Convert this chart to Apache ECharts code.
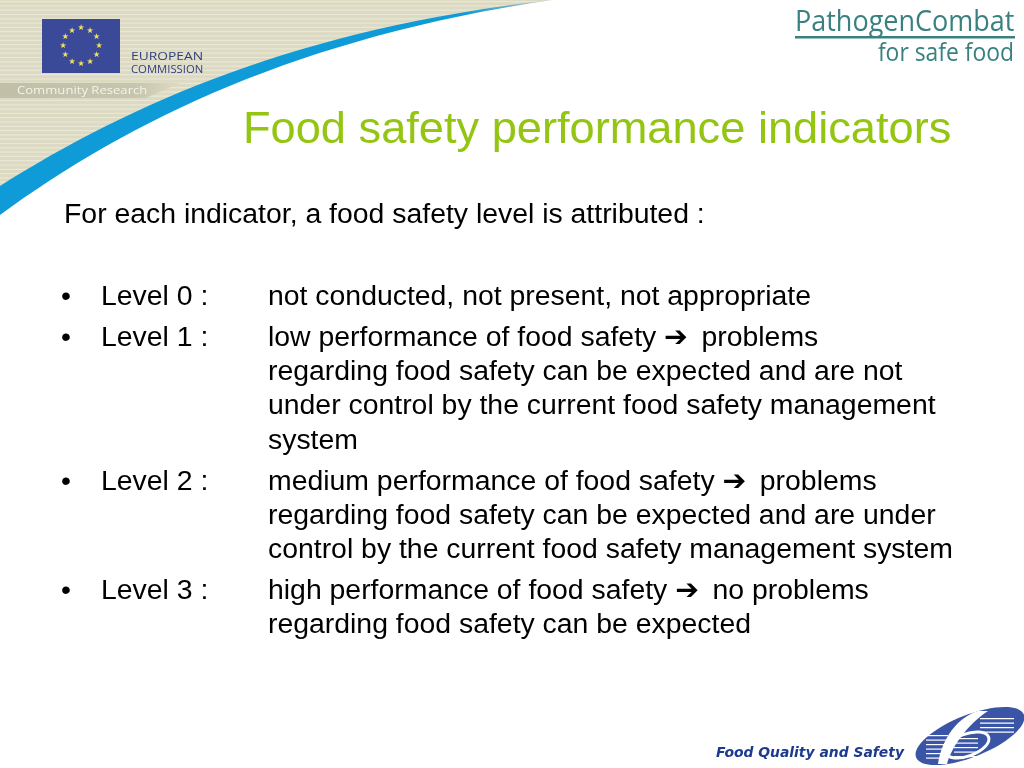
<!DOCTYPE html>
<html>
<head>
<meta charset="utf-8">
<style>html,body{margin:0;padding:0;background:#fff}#main{width:1024px;height:768px}</style>
<script src="https://cdn.jsdelivr.net/npm/echarts@6/dist/echarts.min.js"></script>
</head>
<body>
<div id="main"></div>
<script>
const titleText = 'Food safety performance indicators'
const introText = 'For each indicator, a food safety level is attributed :'
const levelNames = ['Level 0 :', 'Level 1 :', 'Level 2 :', 'Level 3 :']
const levelLines = [
  ['not conducted, not present, not appropriate'],
  ['low performance of food safety \u2794\u2009 problems',
   'regarding food safety can be expected and are not',
   'under control by the current food safety management',
   'system'],
  ['medium performance of food safety \u2794\u2009 problems',
   'regarding food safety can be expected and are under',
   'control by the current food safety management system'],
  ['high performance of food safety \u2794\u2009 no problems',
   'regarding food safety can be expected']
]
const lineCenters = [
  [297],
  [338, 372, 406, 441],
  [482, 516, 550],
  [591, 625]
]

const bodyFont = '"Liberation Sans","DejaVu Sans",sans-serif'
const logoFont = '"Open Sans",sans-serif'
const graphics = []
let shapeCount = 0

// y is the middle of the line, scaleX stretches from x
function txt(x, y, text, size, fill, extra) {
  graphics.push(Object.assign({
    type: 'text', x: x, y: y,
    style: Object.assign({ text: text, fontSize: size, fontFamily: bodyFont, fill: fill, verticalAlign: 'middle' }, extra && extra.style)
  }, extra && extra.el))
}
function rect(x, y, w, h, fill) {
  graphics.push({ type: 'rect', shape: { x: x, y: y, width: w, height: h }, style: { fill: fill } })
}
// the graphic component has no plain path type, so each outline gets registered as a shape
function path(d, fill) {
  const name = 'slidePath' + shapeCount++
  echarts.graphic.registerShape(name, echarts.graphic.extendPath(d, {}))
  graphics.push({ type: name, style: { fill: fill } })
}

// striped beige corner
rect(0, 0, 560, 220, '#dcdac2')
for (let y = 1; y < 220; y += 4.3) rect(0, y, 560, 1.2, '#e9e7d6')
// white over everything below the swoosh
path('M0,190 C130,108 300,30 552,0 L560,0 L560,225 L0,225 Z', '#fff')
// the swoosh itself
path('M0,186 C130,104 300,28 552,0 C300,37 130,120 0,215 Z', new echarts.graphic.LinearGradient(0, 0, 1, 0, [
  { offset: 0, color: '#0f9bd7' }, { offset: 0.84, color: '#0f9bd7' }, { offset: 1, color: '#b4c0bc' }
]))

// EU flag
rect(42, 19, 78, 54, '#3a4a99')
for (let i = 0; i < 12; i++) {
  const a = i / 12 * Math.PI * 2
  txt(81 + Math.sin(a) * 18, 46 - Math.cos(a) * 18, '\u2605', 8, '#f2e25a', { style: { align: 'center' } })
}
txt(131, 57, 'EUROPEAN', 10, '#33407f', { el: { scaleX: 1.38 }, style: { fontFamily: logoFont } })
txt(131, 70, 'COMMISSION', 10, '#33407f', { el: { scaleX: 1.13 }, style: { fontFamily: logoFont } })

// community research band
graphics.push({
  type: 'polygon', shape: { points: [[0, 83], [180, 83], [146, 98], [0, 98]] },
  style: { fill: new echarts.graphic.LinearGradient(0, 0, 1, 0, [
    { offset: 0, color: '#c0bfa8' }, { offset: 0.75, color: '#c6c5ae' }, { offset: 1, color: '#dcdac2' }
  ]) }
})
txt(17, 91, 'Community Research', 11, '#f4f4ea', { el: { scaleX: 1.19 }, style: { fontFamily: logoFont } })

// PathogenCombat logo
txt(795, 22, 'PathogenCombat', 30, '#3a8080', { el: { scaleX: 0.9 }, style: { fontFamily: logoFont } })
rect(795, 36, 220, 2.4, '#3a8080')
txt(1014, 54, 'for safe food', 26, '#3a8080', { el: { scaleX: 0.88 }, style: { align: 'right', fontFamily: logoFont } })

// title
txt(243, 131, titleText, 45.2, '#93c512')

// body
txt(64, 215, introText, 28.4, '#000')
levelNames.forEach((name, i) => {
  txt(61, lineCenters[i][0], '\u2022', 28.4, '#000')
  txt(101, lineCenters[i][0], name, 28.4, '#000')
  levelLines[i].forEach((line, j) => txt(268, lineCenters[i][j], line, 28.4, '#000'))
})

// footer
txt(716, 753, 'Food Quality and Safety', 13.9, '#1c3a8e', { style: { fontFamily: '"DejaVu Sans",sans-serif', fontWeight: 'bold', fontStyle: 'italic' } })
graphics.push({
  type: 'ellipse', shape: { cx: 970, cy: 736, rx: 58, ry: 21 }, rotation: 0.38, originX: 970, originY: 736,
  style: { fill: '#3a55a5' }
})
for (let y = 718; y < 733; y += 4.5) rect(980, y, 34, 1.2, '#fff')
for (let y = 735; y < 760; y += 4.5) rect(926, y, 22, 1.2, '#fff')
for (let y = 738; y < 758; y += 4.5) rect(954, y, 24, 1.2, '#fff')
path('M978,711 C958,717 942,738 938,764 L947,764 C952,746 968,724 988,711 Z', '#fff')
graphics.push({
  type: 'ellipse', shape: { cx: 967, cy: 745, rx: 23, ry: 11 }, rotation: 0.35, originX: 967, originY: 745,
  style: { fill: 'none', stroke: '#fff', lineWidth: 3 }
})

const chart = echarts.init(document.getElementById('main'), null, { width: 1024, height: 768 })
chart.setOption({ animation: false, backgroundColor: '#fff', graphic: { elements: graphics } })
</script>
</body>
</html>
